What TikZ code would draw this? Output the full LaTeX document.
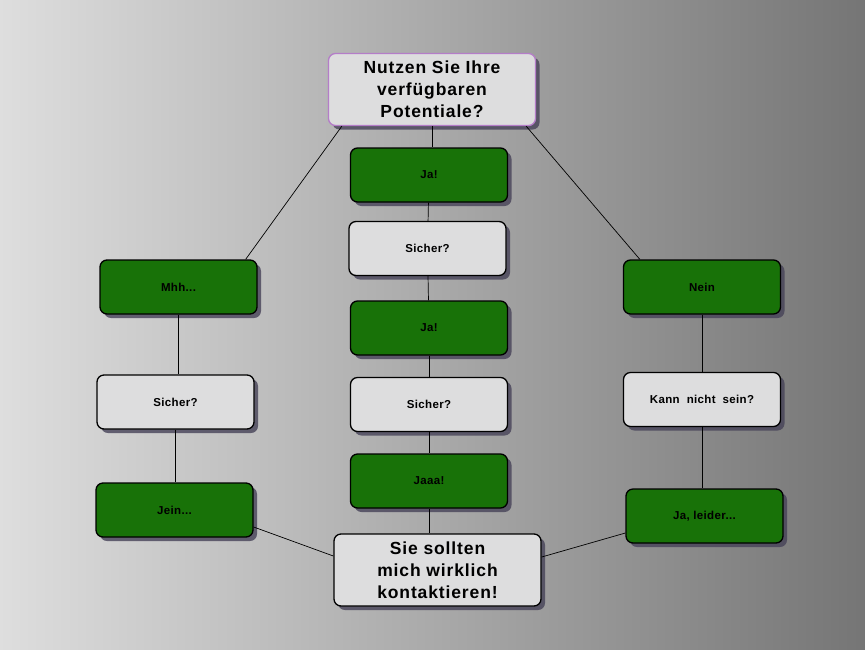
\documentclass[tikz,border=0pt]{standalone}
\usepackage{fontspec}
\setmainfont{Liberation Sans}
\definecolor{leaf}{RGB}{24,114,8}
\definecolor{pale}{RGB}{221,221,222}
\definecolor{lilac}{RGB}{180,125,200}
\definecolor{dusk}{RGB}{70,66,88}
\usetikzlibrary{shadows}
\tikzset{
  box/.style={draw=black,line width=1.3pt,rounded corners=7pt,align=center,
              minimum width=157pt,minimum height=54pt,inner sep=2pt,
              font=\fontsize{11.5}{13}\selectfont\bfseries\addfontfeatures{LetterSpace=3},
              drop shadow={shadow xshift=4pt,shadow yshift=-4pt,fill=dusk,opacity=.8}},
  yes/.style={box,fill=leaf},
  ask/.style={box,fill=pale},
  big/.style={box,fill=pale,minimum width=207pt,minimum height=72pt,
              font=\fontsize{17.5}{22}\selectfont\bfseries\addfontfeatures{LetterSpace=5}},
  wire/.style={draw=black,line width=.7pt},
}

\begin{document}
\begin{tikzpicture}[x=1pt,y=-1pt]
    \useasboundingbox (0,0) rectangle (865,649);
    \shade[left color=black!13,right color=black!54] (0,0) rectangle (865,649);
    % question and answer
    \node[big,draw=lilac] (q) at (432,89.5) {Nutzen Sie Ihre\\verfügbaren\\Potentiale?};
    \node[big] (fin) at (437.5,570) {Sie sollten\\mich wirklich\\kontaktieren!};
    % middle column
    \node[yes] (ja1) at (429,175) {Ja!};
    \node[ask] (si1) at (427.5,248.5) {Sicher?};
    \node[yes] (ja2) at (429,328) {Ja!};
    \node[ask] (si2) at (429,404.5) {Sicher?};
    \node[yes] (jaaa) at (429,481) {Jaaa!};
    % left column
    \node[yes] (mhh) at (178.5,287) {Mhh...};
    \node[ask] (sil) at (175.5,402) {Sicher?};
    \node[yes] (jein) at (174.5,510) {Jein...};
    % right column
    \node[yes] (nein) at (702,287) {Nein};
    \node[ask] (kann) at (702,399.5) {Kann~ nicht~ sein?};
    \node[yes] (leider) at (704.5,516) {Ja, leider...};
    % connectors
    \draw[wire] ([xshift=14pt]q.south west) -- ([xshift=-12pt]mhh.north east);
    \draw[wire] ([xshift=-10pt]q.south east) -- ([xshift=17pt]nein.north west);
    \draw[wire] (q.south) -- (q.south |- ja1.north);
    \draw[wire] (ja1) -- (si1);
    \draw[wire] (si1) -- (ja2);
    \draw[wire] (ja2) -- (si2);
    \draw[wire] (si2) -- (jaaa);
    \draw[wire] (jaaa.south) -- (jaaa.south |- fin.north);
    \draw[wire] (mhh) -- (mhh |- sil.north);
    \draw[wire] (sil) -- (sil |- jein.north);
    \draw[wire] (nein) -- (nein |- kann.north);
    \draw[wire] (kann) -- (kann |- leider.north);
    \draw[wire] ([yshift=-17pt]jein.east) -- ([yshift=14pt]fin.west);
    \draw[wire] ([yshift=-17pt]leider.west) -- ([yshift=13pt]fin.east);
\end{tikzpicture}
\end{document}
